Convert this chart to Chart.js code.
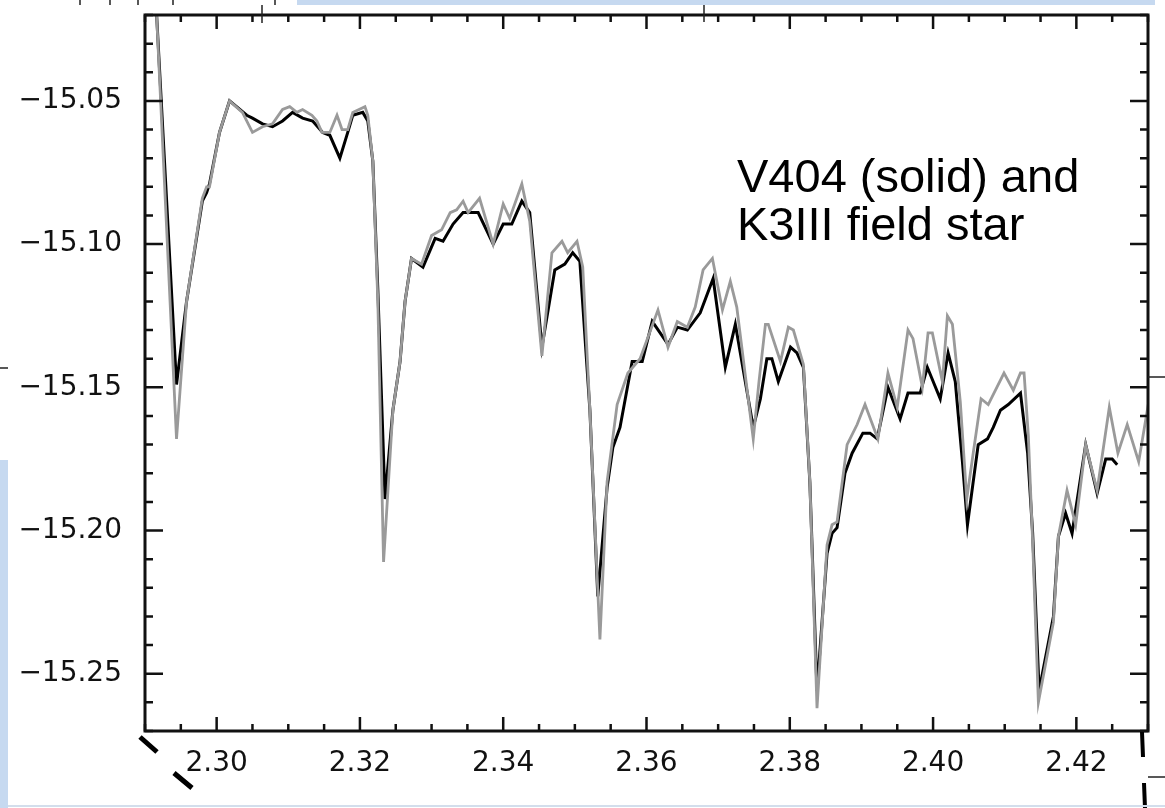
<!DOCTYPE html>
<html>
<head>
<meta charset="utf-8">
<script src="https://cdn.jsdelivr.net/npm/chart.js@4.4.1/dist/chart.umd.min.js"></script>
<style>
html, body { margin: 0; padding: 0; background: #fff; }
#wrap { position: relative; width: 1165px; height: 808px; overflow: hidden; }
#chart { position: absolute; left: 0; top: 0; }
.note {
  position: absolute; left: 737px; top: 152px;
  font-family: 'Liberation Sans', Arial, sans-serif;
  font-size: 47px; line-height: 48px; color: #000; white-space: nowrap;
}
.blue { position: absolute; background: #c6d9f0; }
</style>
</head>
<body>
<div id="wrap">
  <canvas id="chart" width="1165" height="808"></canvas>
  <div class="blue" style="left:297px;top:0;width:858px;height:5px"></div>
  <div class="blue" style="left:0;top:460px;width:8px;height:348px"></div>
  <div class="blue" style="left:8px;top:805px;width:1157px;height:2px;background:#d3deec"></div>
  <div class="note">V404 (solid) and<br>K3III field star</div>
</div>
<script>
// wavelength (micron) and log flux
const v404Wave = [2.2916, 2.2944, 2.2958, 2.2980, 2.2986, 2.2990, 2.3004, 2.3018, 2.3042, 2.3050,
  2.3064, 2.3078, 2.3092, 2.3106, 2.3120, 2.3134, 2.3148, 2.3158, 2.3172, 2.3183,
  2.3190, 2.3204, 2.3211, 2.3218, 2.3225, 2.3235, 2.3246, 2.3256, 2.3263, 2.3272,
  2.3288, 2.3305, 2.3316, 2.3330, 2.3344, 2.3365, 2.3386, 2.3400, 2.3412, 2.3426,
  2.3437, 2.3454, 2.3472, 2.3486, 2.3497, 2.3507, 2.3521, 2.3532, 2.3545, 2.3553,
  2.3563, 2.3580, 2.3594, 2.3608, 2.3630, 2.3643, 2.3657, 2.3675, 2.3693, 2.3710,
  2.3724, 2.3749, 2.3759, 2.3768, 2.3775, 2.3784, 2.3801, 2.3810, 2.3819, 2.3828,
  2.3838, 2.3852, 2.3859, 2.3866, 2.3877, 2.3887, 2.3902, 2.3912, 2.3922, 2.3937,
  2.3954, 2.3965, 2.3982, 2.3992, 2.4010, 2.4021, 2.4031, 2.4041, 2.4048, 2.4056,
  2.4063, 2.4076, 2.4084, 2.4094, 2.4105, 2.4122, 2.4132, 2.4139, 2.4148, 2.4168,
  2.4175, 2.4185, 2.4194, 2.4213, 2.4229, 2.4241, 2.4250, 2.4257];
const v404Flux = [-15.019, -15.149, -15.120, -15.085, -15.082, -15.079, -15.061, -15.050, -15.055, -15.056,
  -15.058, -15.059, -15.057, -15.054, -15.056, -15.057, -15.061, -15.062, -15.070, -15.061,
  -15.055, -15.054, -15.057, -15.071, -15.116, -15.189, -15.158, -15.141, -15.120, -15.105,
  -15.108, -15.098, -15.099, -15.093, -15.089, -15.089, -15.100, -15.093, -15.093, -15.085,
  -15.089, -15.136, -15.109, -15.107, -15.103, -15.106, -15.158, -15.223, -15.185, -15.171,
  -15.164, -15.141, -15.141, -15.127, -15.135, -15.129, -15.130, -15.124, -15.112, -15.143,
  -15.128, -15.164, -15.154, -15.140, -15.140, -15.148, -15.136, -15.138, -15.143, -15.183,
  -15.256, -15.208, -15.201, -15.199, -15.180, -15.173, -15.166, -15.166, -15.168, -15.150,
  -15.161, -15.152, -15.152, -15.143, -15.154, -15.138, -15.148, -15.176, -15.198, -15.183,
  -15.170, -15.168, -15.164, -15.158, -15.156, -15.152, -15.173, -15.201, -15.256, -15.230,
  -15.202, -15.194, -15.201, -15.170, -15.187, -15.175, -15.175, -15.177];

const k3Wave = [2.2916, 2.2944, 2.2958, 2.2980, 2.2986, 2.2990, 2.3004, 2.3018, 2.3036, 2.3050,
  2.3064, 2.3078, 2.3092, 2.3102, 2.3112, 2.3120, 2.3133, 2.3140, 2.3147, 2.3158,
  2.3168, 2.3175, 2.3183, 2.3190, 2.3207, 2.3211, 2.3218, 2.3225, 2.3233, 2.3246,
  2.3256, 2.3263, 2.3272, 2.3286, 2.3300, 2.3314, 2.3326, 2.3335, 2.3344, 2.3351,
  2.3367, 2.3386, 2.3400, 2.3409, 2.3426, 2.3437, 2.3454, 2.3468, 2.3482, 2.3490,
  2.3503, 2.3511, 2.3521, 2.3535, 2.3545, 2.3559, 2.3574, 2.3591, 2.3616, 2.3630,
  2.3643, 2.3657, 2.3668, 2.3679, 2.3692, 2.3706, 2.3717, 2.3726, 2.3749, 2.3757,
  2.3766, 2.3770, 2.3787, 2.3798, 2.3805, 2.3819, 2.3828, 2.3838, 2.3852, 2.3859,
  2.3866, 2.3880, 2.3894, 2.3905, 2.3923, 2.3937, 2.3950, 2.3965, 2.3972, 2.3985,
  2.3993, 2.3999, 2.4013, 2.4020, 2.4027, 2.4038, 2.4047, 2.4056, 2.4067, 2.4077,
  2.4099, 2.4112, 2.4122, 2.4127, 2.4133, 2.4139, 2.4147, 2.4168, 2.4175, 2.4187,
  2.4199, 2.4213, 2.4229, 2.4246, 2.4258, 2.4271, 2.4287, 2.4301];
const k3Flux = [-15.019, -15.168, -15.120, -15.084, -15.080, -15.080, -15.061, -15.050, -15.054, -15.061,
  -15.059, -15.058, -15.053, -15.052, -15.054, -15.053, -15.055, -15.057, -15.061, -15.061,
  -15.055, -15.060, -15.060, -15.054, -15.052, -15.055, -15.071, -15.120, -15.211, -15.158,
  -15.141, -15.120, -15.105, -15.107, -15.097, -15.095, -15.089, -15.088, -15.085, -15.089,
  -15.084, -15.100, -15.086, -15.091, -15.079, -15.092, -15.139, -15.103, -15.099, -15.103,
  -15.099, -15.108, -15.158, -15.238, -15.183, -15.156, -15.145, -15.140, -15.123, -15.136,
  -15.127, -15.129, -15.122, -15.109, -15.105, -15.123, -15.113, -15.122, -15.168, -15.148,
  -15.128, -15.128, -15.141, -15.129, -15.130, -15.142, -15.183, -15.262, -15.205, -15.198,
  -15.197, -15.170, -15.163, -15.156, -15.168, -15.145, -15.157, -15.130, -15.133, -15.150,
  -15.131, -15.131, -15.148, -15.125, -15.128, -15.155, -15.189, -15.173, -15.154, -15.156,
  -15.145, -15.151, -15.145, -15.145, -15.167, -15.204, -15.260, -15.232, -15.202, -15.186,
  -15.198, -15.170, -15.186, -15.157, -15.173, -15.163, -15.176, -15.155];

const xTicks = [2.30, 2.32, 2.34, 2.36, 2.38, 2.40, 2.42];
const yTicks = [-15.25, -15.20, -15.15, -15.10, -15.05];

const pts = (w, f) => w.map((v, i) => ({ x: v, y: f[i] }));

// box with inward ticks on all four sides (IDL style)
const frameTicks = {
  id: 'frameTicks',
  afterDatasetsDraw(chart) {
    const { ctx, chartArea: a, scales: { x, y } } = chart;
    ctx.save();
    ctx.strokeStyle = '#111';
    ctx.lineWidth = 2.5;
    ctx.beginPath();
    for (let i = 0; i <= 28; i++) {
      const px = x.getPixelForValue(2.29 + i * 0.005);
      const len = i % 4 === 2 ? 14 : 7;
      ctx.moveTo(px, a.bottom); ctx.lineTo(px, a.bottom - len);
      ctx.moveTo(px, a.top); ctx.lineTo(px, a.top + len);
    }
    for (let i = 0; i <= 25; i++) {
      const py = y.getPixelForValue(-15.27 + i * 0.01);
      const len = i % 5 === 2 ? 18 : 8;
      ctx.moveTo(a.left, py); ctx.lineTo(a.left + len, py);
      ctx.moveTo(a.right, py); ctx.lineTo(a.right - len, py);
    }
    ctx.stroke();
    ctx.lineWidth = 3;
    ctx.strokeRect(a.left, a.top, a.right - a.left, a.bottom - a.top);
    ctx.restore();
  },
  afterDraw(chart) {
    // leftover slide bits around the picture
    const ctx = chart.ctx;
    ctx.save();
    ctx.strokeStyle = '#000';
    ctx.lineCap = 'butt';
    ctx.lineWidth = 5;
    ctx.beginPath();
    ctx.moveTo(140, 737); ctx.lineTo(157, 752);
    ctx.moveTo(174, 773); ctx.lineTo(192, 788);
    ctx.stroke();
    ctx.lineWidth = 4;
    ctx.beginPath();
    ctx.moveTo(1142, 732); ctx.lineTo(1143, 757);
    ctx.moveTo(1144, 783); ctx.lineTo(1145, 808);
    ctx.stroke();
    ctx.lineWidth = 1.5;
    ctx.strokeStyle = '#222';
    ctx.beginPath();
    ctx.moveTo(1148, 777); ctx.lineTo(1165, 777);
    ctx.moveTo(1148, 377); ctx.lineTo(1165, 377);
    ctx.moveTo(0, 368); ctx.lineTo(8, 368);
    ctx.moveTo(704, 5); ctx.lineTo(704, 22);
    ctx.moveTo(262, 5); ctx.lineTo(262, 23);
    [80, 110, 138, 173, 275].forEach(t => { ctx.moveTo(t, 0); ctx.lineTo(t, 5); });
    ctx.stroke();
    ctx.restore();
  }
};

new Chart(document.getElementById('chart').getContext('2d'), {
  type: 'line',
  data: {
    datasets: [{
      label: 'K3III field star',
      data: pts(k3Wave, k3Flux),
      borderColor: '#9a9a9a',
      borderWidth: 2.8,
      pointRadius: 0,
      tension: 0,
      order: 0
    }, {
      label: 'V404',
      data: pts(v404Wave, v404Flux),
      borderColor: '#000',
      borderWidth: 3,
      pointRadius: 0,
      tension: 0,
      order: 1
    }]
  },
  options: {
    responsive: false,
    animation: false,
    layout: { padding: { top: 15, right: 17, left: 0, bottom: 0 } },
    plugins: { legend: { display: false }, tooltip: { enabled: false } },
    scales: {
      x: {
        type: 'linear',
        min: 2.29,
        max: 2.43,
        grid: { display: false },
        border: { display: false },
        afterBuildTicks: s => { s.ticks = xTicks.map(v => ({ value: v })); },
        afterFit: s => { s.height = 77; s.paddingLeft = 0; s.paddingRight = 0; },
        ticks: {
          color: '#111',
          font: { family: 'DejaVu Sans', size: 28 },
          padding: 8,
          maxRotation: 0,
          autoSkip: false,
          callback: v => v.toFixed(2)
        }
      },
      y: {
        min: -15.27,
        max: -15.02,
        grid: { display: false },
        border: { display: false },
        afterBuildTicks: s => { s.ticks = yTicks.map(v => ({ value: v })); },
        afterFit: s => { s.width = 145; s.paddingTop = 0; s.paddingBottom = 0; },
        ticks: {
          color: '#111',
          font: { family: 'DejaVu Sans', size: 28 },
          padding: 15,
          autoSkip: false,
          callback: v => '\u2212' + Math.abs(v).toFixed(2)
        }
      }
    }
  },
  plugins: [frameTicks]
});
</script>
</body>
</html>
